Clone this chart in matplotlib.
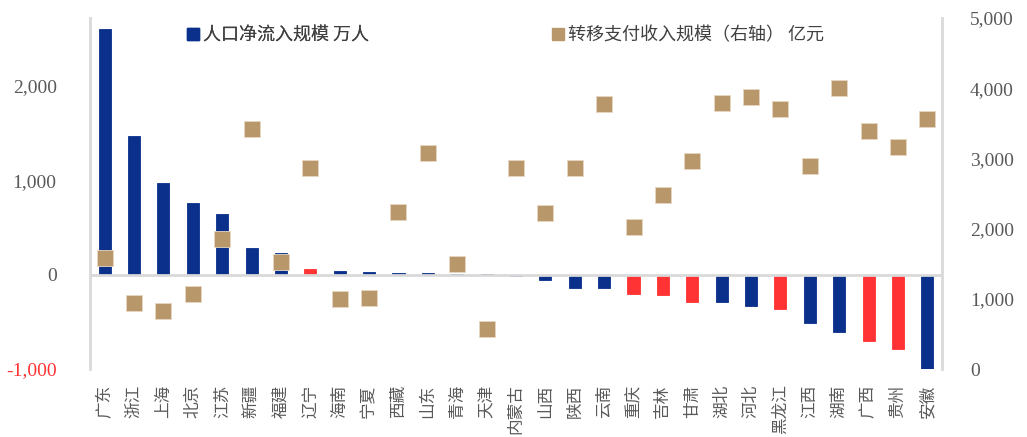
import matplotlib
matplotlib.use("Agg")
import matplotlib.pyplot as plt
from matplotlib.lines import Line2D

plt.rcParams['font.family'] = ['Noto Sans CJK SC', 'DejaVu Sans']

provinces = ["广东", "浙江", "上海", "北京", "江苏", "新疆", "福建", "辽宁", "海南", "宁夏",
             "西藏", "山东", "青海", "天津", "内蒙古", "山西", "陕西", "云南", "重庆", "吉林",
             "甘肃", "湖北", "河北", "黑龙江", "江西", "湖南", "广西", "贵州", "安徽"]
net_inflow = [2605, 1468, 973, 756, 640, 280, 227, 62, 40, 25,
              15, 14, 3, 2, -15, -55, -137, -137, -203, -213,
              -288, -288, -337, -362, -513, -612, -700, -785, -1000]
transfer = [1585, 945, 826, 1068, 1852, 3419, 1524, 2868, 1004, 1007,
            2232, 3072, 1491, 565, 2868, 2218, 2868, 3779, 2027, 2479,
            2963, 3789, 3879, 3699, 2887, 3999, 3390, 3167, 3566]
red_provinces = ["辽宁", "重庆", "吉林", "甘肃", "黑龙江", "广西", "贵州"]
left_ticks = [-1000, 0, 1000, 2000]
right_ticks = [0, 1000, 2000, 3000, 4000, 5000]
legend_labels = ["人口净流入规模 万人", "转移支付收入规模（右轴） 亿元"]

BLUE = "#0A308C"
RED = "#FF3333"
TAN = "#B8976A"
GRAY = "#595959"
SPINE = "#D9D9D9"
num_font = "Liberation Serif"

fig = plt.figure(figsize=(10.27, 4.37), dpi=100)
ax = fig.add_axes([90/1027, 68/437, 852/1027, 351/437])
ax2 = ax.twinx()

x = list(range(len(provinces)))
colors = [RED if p in red_provinces else BLUE for p in provinces]
ax.bar(x, net_inflow, width=0.41, color=colors, edgecolor=colors, linewidth=0.6, zorder=2)
ax.axhline(0, color=SPINE, linewidth=2, zorder=3)

ax2.scatter(x, transfer, marker='s', s=125, color=TAN, edgecolors="#E6D7C3", linewidths=0.6, zorder=4)

ax.set_xlim(-0.5, len(provinces) - 0.5)
ax.set_ylim(-1000, 2720)
ax2.set_ylim(0, 5000)

ax.set_yticks(left_ticks)
ax.set_yticklabels([f"{v:,}" for v in left_ticks], fontfamily=num_font, fontsize=14, color=GRAY)
ax.get_yticklabels()[0].set_color(RED)
ax2.set_yticks(right_ticks)
ax2.set_yticklabels([f"{v:,}" for v in right_ticks], fontfamily=num_font, fontsize=14, color=GRAY)

ax.set_xticks(x)
ax.set_xticklabels(provinces, rotation=90, fontsize=12, color=GRAY, va='top', ha='center')
ax.tick_params(axis='x', length=0, pad=11)
ax.tick_params(axis='y', length=0, pad=24)
ax2.tick_params(axis='y', length=0, pad=20)

for a in (ax, ax2):
    for s in ('top', 'bottom', 'left', 'right'):
        a.spines[s].set_visible(False)
ax.spines['left'].set_visible(True)
ax.spines['left'].set_color(SPINE)
ax.spines['left'].set_linewidth(2)
ax2.spines['right'].set_visible(True)
ax2.spines['right'].set_color(SPINE)
ax2.spines['right'].set_linewidth(2)

h1 = Line2D([], [], marker='s', linestyle='None', color=BLUE, markersize=8.5)
h2 = Line2D([], [], marker='s', linestyle='None', color=TAN, markersize=8)
leg1 = fig.legend([h1], [legend_labels[0]], loc='center left', bbox_to_anchor=(184/1027, 1 - 35/437),
                  frameon=False, fontsize=13, handletextpad=0.05, handlelength=1.0, borderpad=0,
                  borderaxespad=0)
for t in leg1.get_texts():
    t.set_color("#404040")
leg2 = fig.legend([h2], [legend_labels[1]], loc='center left', bbox_to_anchor=(549/1027, 1 - 35/437),
                  frameon=False, fontsize=13, handletextpad=0.05, handlelength=1.0, borderpad=0,
                  borderaxespad=0)
for t in leg2.get_texts():
    t.set_color("#404040")
fig.add_artist(leg1)

fig.savefig("out.png", dpi=100, facecolor="white")
